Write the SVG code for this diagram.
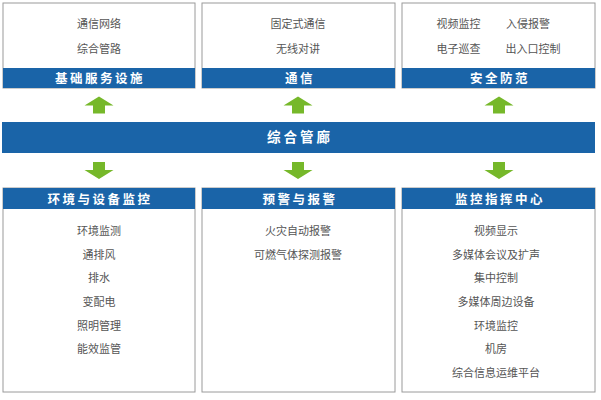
<svg xmlns="http://www.w3.org/2000/svg" width="601" height="400" viewBox="0 0 601 400">
<style>
.box{fill:#fff;stroke:#9a9a9a;stroke-width:1}
.hdr{fill:#1a64a8}
.ht{font-family:"Noto Sans CJK SC","Liberation Sans",sans-serif;font-size:12.5px;font-weight:bold;fill:#fff;text-anchor:middle;letter-spacing:2.5px}
.it{font-family:"Noto Sans CJK SC","Liberation Sans",sans-serif;font-size:11px;fill:#555;text-anchor:middle}
.ar{fill:#76b82a}
</style>
<defs>
<polygon id="up" points="0,-8.5 14.5,0.5 6,0.5 6,8.5 -6,8.5 -6,0.5 -14.5,0.5"/>
<polygon id="down" points="-6,-8.5 6,-8.5 6,-0.5 14.5,-0.5 0,8.5 -14.5,-0.5 -6,-0.5"/>
</defs>
<rect width="601" height="400" fill="#fff"/>
<g id="top-left">
<rect class="box" x="3" y="3" width="192" height="85"/>
<rect class="hdr" x="3" y="68" width="192" height="20"/>
<text class="ht" x="100" y="82.5">基础服务设施</text>
<text class="it" x="99" y="28">通信网络</text>
<text class="it" x="99" y="53">综合管路</text>
</g>
<g id="top-mid">
<rect class="box" x="202" y="3" width="193" height="85"/>
<rect class="hdr" x="202" y="68" width="193" height="20"/>
<text class="ht" x="300" y="82.5">通信</text>
<text class="it" x="298" y="28">固定式通信</text>
<text class="it" x="298" y="53">无线对讲</text>
</g>
<g id="top-right">
<rect class="box" x="402" y="3" width="193" height="85"/>
<rect class="hdr" x="402" y="68" width="193" height="20"/>
<text class="ht" x="500" y="82.5">安全防范</text>
<text class="it" x="458.5" y="28">视频监控</text>
<text class="it" x="528" y="28">入侵报警</text>
<text class="it" x="458.5" y="53">电子巡查</text>
<text class="it" x="533" y="53">出入口控制</text>
</g>
<g id="main">
<rect class="hdr" x="2" y="122" width="593" height="31"/>
<text class="ht" x="300" y="142" style="font-size:13.5px;letter-spacing:3px">综合管廊</text>
</g>
<g id="connectors">
<use href="#up" class="ar" x="99" y="105"/>
<use href="#up" class="ar" x="298" y="105"/>
<use href="#up" class="ar" x="499" y="105"/>
<use href="#down" class="ar" x="99" y="170.5"/>
<use href="#down" class="ar" x="298" y="170.5"/>
<use href="#down" class="ar" x="499" y="170.5"/>
</g>
<g id="bottom-left">
<rect class="box" x="3" y="188" width="192" height="204"/>
<rect class="hdr" x="3" y="188" width="192" height="21"/>
<text class="ht" x="100" y="203.5">环境与设备监控</text>
<text class="it" x="99" y="235">环境监测</text>
<text class="it" x="99" y="259">通排风</text>
<text class="it" x="99" y="282">排水</text>
<text class="it" x="99" y="306">变配电</text>
<text class="it" x="99" y="330">照明管理</text>
<text class="it" x="99" y="353">能效监管</text>
</g>
<g id="bottom-mid">
<rect class="box" x="202" y="188" width="193" height="204"/>
<rect class="hdr" x="202" y="188" width="193" height="21"/>
<text class="ht" x="300" y="203.5">预警与报警</text>
<text class="it" x="298" y="235">火灾自动报警</text>
<text class="it" x="298" y="259">可燃气体探测报警</text>
</g>
<g id="bottom-right">
<rect class="box" x="402" y="188" width="193" height="204"/>
<rect class="hdr" x="402" y="188" width="193" height="21"/>
<text class="ht" x="500" y="203.5">监控指挥中心</text>
<text class="it" x="496" y="235">视频显示</text>
<text class="it" x="496" y="259">多媒体会议及扩声</text>
<text class="it" x="496" y="282">集中控制</text>
<text class="it" x="496" y="306">多媒体周边设备</text>
<text class="it" x="496" y="330">环境监控</text>
<text class="it" x="496" y="353">机房</text>
<text class="it" x="496" y="377">综合信息运维平台</text>
</g>
</svg>
